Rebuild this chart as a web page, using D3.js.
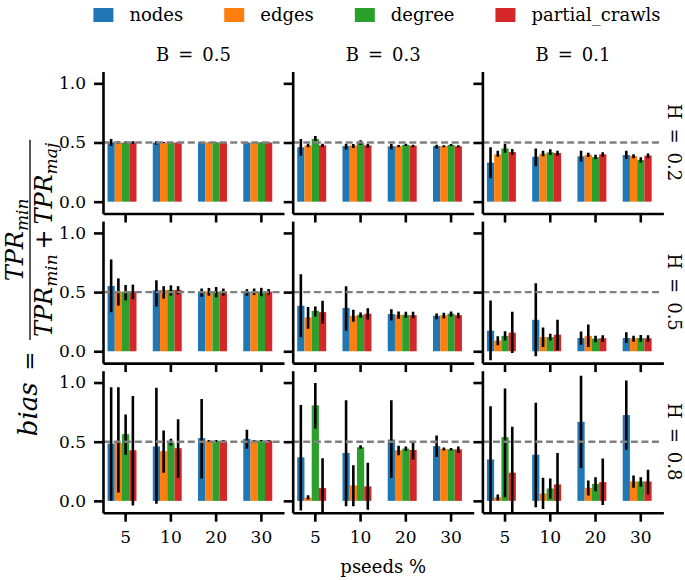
<!DOCTYPE html>
<html>
<head>
<meta charset="utf-8">
<script src="https://cdn.jsdelivr.net/npm/d3@7"></script>
<style>
  body { margin: 0; background: #fff; }
</style>
</head>
<body>
<div id="chart"></div>
<script>
// facets
var rowsH = ["0.2", "0.5", "0.8"];
var colsB = ["0.5", "0.3", "0.1"];
var pseeds = ["5", "10", "20", "30"];
var series = ["nodes", "edges", "degree", "partial_crawls"];
var colors = ["#1f77b4", "#ff7f0e", "#2ca02c", "#d62728"];
var yTicks = [0, 0.5, 1.0];

// values: one row per series (nodes, edges, degree, partial_crawls), one column per pseeds %
// H = 0.2
var h02_b05_mean = [[0.50,0.50,0.50,0.50],[0.50,0.50,0.50,0.50],[0.50,0.50,0.50,0.50],[0.50,0.50,0.50,0.50]];
var h02_b05_lo   = [[0.47,0.48,0.495,0.497],[0.49,0.495,0.497,0.497],[0.49,0.495,0.497,0.497],[0.49,0.495,0.497,0.497]];
var h02_b05_hi   = [[0.53,0.51,0.505,0.503],[0.51,0.505,0.503,0.503],[0.51,0.505,0.503,0.503],[0.51,0.505,0.503,0.503]];
var h02_b03_mean = [[0.46,0.47,0.468,0.47],[0.476,0.476,0.47,0.47],[0.53,0.496,0.48,0.479],[0.476,0.476,0.473,0.468]];
var h02_b03_lo   = [[0.39,0.44,0.442,0.45],[0.46,0.454,0.46,0.46],[0.513,0.479,0.47,0.47],[0.46,0.456,0.46,0.458]];
var h02_b03_hi   = [[0.53,0.49,0.487,0.48],[0.49,0.487,0.478,0.477],[0.555,0.518,0.49,0.487],[0.49,0.49,0.482,0.477]];
var h02_b01_mean = [[0.33,0.38,0.383,0.394],[0.40,0.405,0.397,0.386],[0.45,0.417,0.377,0.352],[0.42,0.411,0.40,0.389]];
var h02_b01_lo   = [[0.197,0.30,0.34,0.36],[0.38,0.383,0.377,0.366],[0.414,0.394,0.358,0.33],[0.397,0.389,0.38,0.366]];
var h02_b01_hi   = [[0.46,0.45,0.43,0.43],[0.43,0.43,0.414,0.40],[0.487,0.442,0.397,0.375],[0.445,0.43,0.417,0.408]];
// H = 0.5
var h05_b05_mean = [[0.552,0.515,0.504,0.504],[0.504,0.518,0.504,0.504],[0.504,0.518,0.504,0.504],[0.504,0.518,0.504,0.504]];
var h05_b05_lo   = [[0.33,0.378,0.46,0.47],[0.386,0.445,0.47,0.475],[0.43,0.47,0.456,0.465],[0.44,0.48,0.47,0.478]];
var h05_b05_hi   = [[0.776,0.60,0.53,0.525],[0.616,0.55,0.535,0.53],[0.56,0.557,0.543,0.536],[0.563,0.55,0.53,0.526]];
var h05_b03_mean = [[0.384,0.367,0.314,0.30],[0.286,0.30,0.308,0.305],[0.342,0.308,0.308,0.317],[0.331,0.317,0.305,0.305]];
var h05_b03_lo   = [[0.118,0.174,0.26,0.27],[0.19,0.25,0.275,0.277],[0.294,0.283,0.283,0.294],[0.235,0.269,0.28,0.277]];
var h05_b03_hi   = [[0.65,0.55,0.356,0.32],[0.375,0.35,0.336,0.325],[0.378,0.328,0.333,0.336],[0.426,0.364,0.333,0.325]];
var h05_b01_mean = [[0.174,0.266,0.112,0.112],[0.09,0.12,0.13,0.11],[0.13,0.12,0.107,0.112],[0.157,0.14,0.11,0.11]];
var h05_b01_lo   = [[-0.076,-0.042,0.056,0.07],[0.05,0.036,0.036,0.08],[0.092,0.09,0.076,0.08],[-0.014,0.008,0.081,0.081]];
var h05_b01_hi   = [[0.43,0.574,0.168,0.16],[0.126,0.2,0.227,0.132],[0.17,0.148,0.132,0.138],[0.333,0.266,0.135,0.135]];
// H = 0.8
var h08_b05_mean = [[0.484,0.46,0.53,0.524],[0.49,0.42,0.507,0.51],[0.564,0.49,0.507,0.51],[0.428,0.445,0.507,0.51]];
var h08_b05_lo   = [[0.0,-0.025,0.19,0.44],[0.07,0.238,0.5,0.505],[0.39,0.467,0.5,0.505],[-0.04,0.195,0.5,0.505]];
var h08_b05_hi   = [[0.96,0.955,0.86,0.6],[0.96,0.595,0.515,0.515],[0.73,0.524,0.515,0.515],[0.887,0.69,0.515,0.515]];
var h08_b03_mean = [[0.368,0.405,0.518,0.462],[0.028,0.13,0.428,0.44],[0.807,0.453,0.442,0.436],[0.108,0.122,0.43,0.436]];
var h08_b03_lo   = [[-0.082,-0.045,0.193,0.37],[0.011,-0.045,0.385,0.425],[0.612,0.44,0.422,0.425],[-0.11,-0.076,0.35,0.405]];
var h08_b03_hi   = [[0.81,0.85,0.85,0.552],[0.048,0.3,0.465,0.45],[0.997,0.47,0.459,0.447],[0.36,0.323,0.49,0.46]];
var h08_b01_mean = [[0.35,0.39,0.668,0.725],[0.03,0.062,0.11,0.164],[0.538,0.105,0.144,0.164],[0.238,0.139,0.158,0.164]];
var h08_b01_lo   = [[-0.11,-0.054,0.278,0.433],[0.003,-0.068,0.045,0.11],[0.03,0.02,0.082,0.12],[-0.11,-0.11,-0.034,0.054]];
var h08_b01_hi   = [[0.80,0.83,1.057,1.017],[0.054,0.195,0.173,0.215],[0.95,0.19,0.2,0.2],[0.626,0.405,0.357,0.263]];

var panels = [
    [[h02_b05_mean,h02_b05_lo,h02_b05_hi],[h02_b03_mean,h02_b03_lo,h02_b03_hi],[h02_b01_mean,h02_b01_lo,h02_b01_hi]],
    [[h05_b05_mean,h05_b05_lo,h05_b05_hi],[h05_b03_mean,h05_b03_lo,h05_b03_hi],[h05_b01_mean,h05_b01_lo,h05_b01_hi]],
    [[h08_b05_mean,h08_b05_lo,h08_b05_hi],[h08_b03_mean,h08_b03_lo,h08_b03_hi],[h08_b01_mean,h08_b01_lo,h08_b01_hi]]
];

var W = 685, H = 580;
var left0 = 103, top0 = 71.5;
var panelW = 181, panelH = 142;
var colStep = 189.7, rowStep = 149.6;
var fs = 18, tfs = 17;
var FONT = "DejaVu Serif";

var svg = d3.select("#chart").append("svg").attr("width", W).attr("height", H)
    .attr("font-family", FONT);

function txt(sel, size) {
    return sel.append("text").style("font-family", FONT).style("font-size", size + "px").attr("fill", "#000");
}

var y = d3.scaleLinear().domain([-0.1, 1.1]).range([panelH, 0]);
var x = d3.scaleBand().domain(pseeds).range([0, panelW]);
var bw = x.bandwidth();
// hue slots: 5 dodge slots of which 4 are used, like the original
var xs = d3.scaleBand().domain(series).range([-0.4 * bw, 0.24 * bw]);

svg.append("defs").append("clipPath").attr("id", "clip")
    .append("rect").attr("x", 0).attr("y", 0).attr("width", panelW).attr("height", panelH);

rowsH.forEach(function(h, r) {
    colsB.forEach(function(b, c) {
        var d = panels[r][c];
        var g = svg.append("g").attr("transform", "translate(" + (left0 + c * colStep) + "," + (top0 + r * rowStep) + ")");

        var rows = [];
        series.forEach(function(s, si) {
            pseeds.forEach(function(p, pi) {
                rows.push({s: s, si: si, p: p, v: d[0][si][pi], lo: d[1][si][pi], hi: d[2][si][pi]});
            });
        });

        g.selectAll("rect.bar").data(rows).enter().append("rect")
            .attr("class", "bar")
            .attr("x", function(e) { return x(e.p) + bw / 2 + xs(e.s); })
            .attr("width", xs.bandwidth())
            .attr("y", function(e) { return y(Math.max(0, e.v)); })
            .attr("height", function(e) { return Math.abs(y(e.v) - y(0)); })
            .attr("fill", function(e) { return colors[e.si]; });

        var eb = g.append("g").attr("clip-path", "url(#clip)");
        eb.selectAll("line").data(rows).enter().append("line")
            .attr("x1", function(e) { return x(e.p) + bw / 2 + xs(e.s) + xs.bandwidth() / 2; })
            .attr("x2", function(e) { return x(e.p) + bw / 2 + xs(e.s) + xs.bandwidth() / 2; })
            .attr("y1", function(e) { return y(e.lo); })
            .attr("y2", function(e) { return y(e.hi); })
            .attr("stroke", "#000").attr("stroke-width", 2.6);

        // reference line at 0.5
        g.append("line")
            .attr("x1", 0).attr("x2", panelW - 2)
            .attr("y1", y(0.5)).attr("y2", y(0.5))
            .attr("stroke", "#808080").attr("stroke-width", 2.4)
            .attr("stroke-dasharray", "7,3.6");

        var ya = d3.axisLeft(y).tickValues(yTicks).tickSize(9).tickSizeOuter(0).tickPadding(8)
            .tickFormat(c == 0 ? d3.format(".1f") : "");
        var gy = g.append("g").call(ya);
        var xa = d3.axisBottom(x).tickSize(9).tickSizeOuter(0).tickPadding(9)
            .tickFormat(r == rowsH.length - 1 ? null : "");
        var gx = g.append("g").attr("transform", "translate(0," + panelH + ")").call(xa);
        [gx, gy].forEach(function(a) {
            a.attr("font-family", FONT);
            a.selectAll("path, line").attr("stroke", "#000").attr("stroke-width", 2.6);
            a.selectAll("text").style("font-family", FONT).style("font-size", tfs + "px").attr("fill", "#000");
        });

        if (r == 0) {
            txt(svg, fs)
                .attr("x", left0 + c * colStep + panelW / 2)
                .attr("y", 61)
                .attr("text-anchor", "middle")
                .text("B\u2002=\u2002" + b);
        }
        if (c == colsB.length - 1) {
            txt(svg, fs)
                .attr("transform", "translate(674," + (top0 + r * rowStep + panelH / 2) + ") rotate(90)")
                .attr("text-anchor", "middle")
                .attr("dominant-baseline", "central")
                .text("H\u2002=\u2002" + h);
        }
    });
});

// x label
txt(svg, fs)
    .attr("x", left0 + (2 * colStep + panelW) / 2)
    .attr("y", 573)
    .attr("text-anchor", "middle")
    .text("pseeds %");

// legend, centred on top
var leg = svg.append("g");
var lx = 0;
series.forEach(function(s, i) {
    leg.append("rect").attr("x", lx).attr("y", 8).attr("width", 20).attr("height", 14).attr("fill", colors[i]);
    var t = txt(leg, fs).attr("x", lx + 36).attr("y", 21).text(s);
    lx += 36 + t.node().getComputedTextLength() + 41;
});
lx -= 41;
leg.attr("transform", "translate(" + (377 - lx / 2) + ",0)");

// y label: bias = TPR_min / (TPR_min + TPR_maj), rotated; pieces placed one after another
var yl = svg.append("g");
var big = 24, sub = 17;
function piece(str, size, italic, px, py) {
    var t = txt(yl, size).attr("x", px).attr("y", py).text(str);
    if (italic) t.style("font-style", "italic");
    return t.node().getComputedTextLength();
}
function measure(parts) {
    var w = 0;
    parts.forEach(function(p) {
        var t = txt(yl, p[1]).text(p[0]);
        if (p[2]) t.style("font-style", "italic");
        w += t.node().getComputedTextLength();
        t.remove();
    });
    return w;
}
var bx = 0;
bx += piece("bias", 26, true, bx, 0);
bx += piece("\u2002=\u2002", 23, false, bx, 0);
var numParts = [["TPR", big, true, 0], ["min", sub, true, 5]];
var denParts = [["TPR", big, true, 0], ["min", sub, true, 5], ["\u2009+\u2009", big, false, 0], ["TPR", big, true, 0], ["maj", sub, true, 5]];
var dLen = measure(denParts), nLen = measure(numParts);
var fx = bx + 3;
var px = fx + (dLen - nLen) / 2;
numParts.forEach(function(p) { px += piece(p[0], p[1], p[2], px, -14 + p[3]); });
px = fx;
denParts.forEach(function(p) { px += piece(p[0], p[1], p[2], px, 15 + p[3]); });
yl.append("line")
    .attr("x1", bx).attr("x2", fx + dLen + 3)
    .attr("y1", -7).attr("y2", -7)
    .attr("stroke", "#000").attr("stroke-width", 1.3);
var total = fx + dLen + 3;
yl.attr("transform", "translate(37," + (288 + total / 2) + ") rotate(-90)");
</script>
</body>
</html>
